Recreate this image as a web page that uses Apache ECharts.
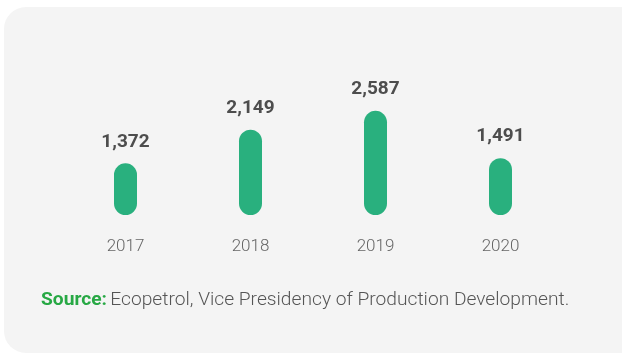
<!DOCTYPE html>
<html>
<head>
<meta charset="utf-8">
<script src="https://cdn.jsdelivr.net/npm/echarts@6/dist/echarts.min.js"></script>
<style>
html,body{margin:0;padding:0;background:#ffffff;}
#chart{width:622px;height:355px;}
</style>
</head>
<body>
<div id="chart"></div>
<script>
const categories = ['2017', '2018', '2019', '2020'];
const values = [1372, 2149, 2587, 1491];
const sourceLabel = 'Source:';
const sourceText = 'Ecopetrol, Vice Presidency of Production Development.';

const FONT = 'Roboto, sans-serif';
const chart = echarts.init(document.getElementById('chart'), null, {renderer: 'canvas'});
const option = {
  backgroundColor: '#ffffff',
  animation: false,
  graphic: [
    {
      type: 'rect', z: -10, silent: true,
      shape: {x: 4, y: 7, width: 650, height: 346, r: 22},
      style: {fill: '#f4f4f4'}
    },
    {
      type: 'text', left: 41, top: 291, z: 10,
      style: {
        text: '{a|' + sourceLabel + '} {b|' + sourceText + '}',
        rich: {
          a: {fontFamily: FONT, fontWeight: 'bold', fontSize: 19.2, fill: '#27a844'},
          b: {fontFamily: FONT, fontWeight: 300, fontSize: 19.2, fill: '#555555'}
        }
      }
    }
  ],
  grid: {left: 63, right: 59, top: 93, bottom: 140},
  xAxis: {
    type: 'category',
    data: categories,
    axisLine: {show: false},
    axisTick: {show: false},
    axisLabel: {
      margin: 23,
      fontFamily: FONT,
      fontWeight: 300,
      fontSize: 17,
      color: '#666666'
    }
  },
  yAxis: {
    type: 'value',
    min: 175,
    max: 3000,
    show: false,
    splitLine: {show: false}
  },
  series: [{
    type: 'bar',
    data: values,
    barWidth: 23,
    itemStyle: {color: '#29b07e', borderRadius: 11.5},
    label: {
      show: true,
      position: 'top',
      distance: 12,
      formatter: p => p.value.toLocaleString('en-US'),
      fontFamily: FONT,
      fontWeight: 'bold',
      fontSize: 19,
      color: '#4d4d4d'
    }
  }]
};
chart.setOption(option);
</script>
</body>
</html>
